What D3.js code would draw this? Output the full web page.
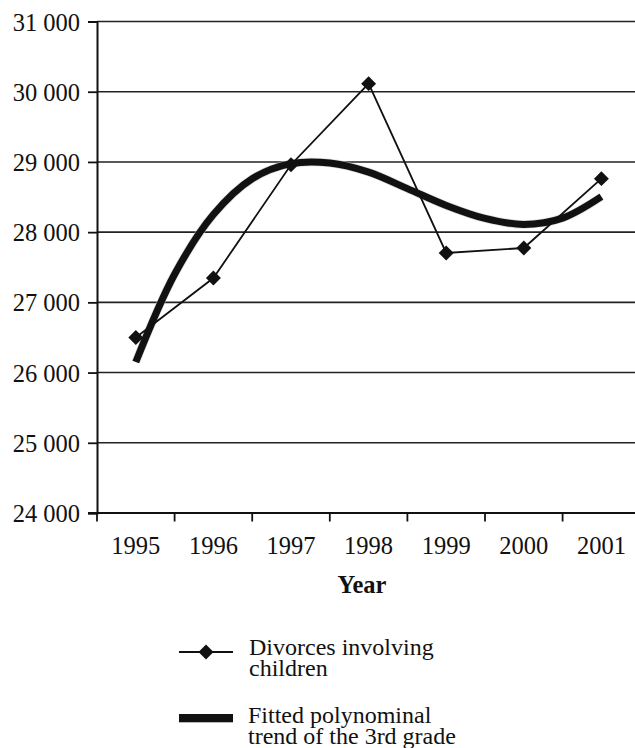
<!DOCTYPE html>
<html>
<head>
<meta charset="utf-8">
<script src="https://cdn.jsdelivr.net/npm/d3@7/dist/d3.min.js"></script>
<style>
  html, body { margin: 0; padding: 0; background: #fff; }
  svg { display: block; }
  text { font-family: "Liberation Serif", "Times New Roman", serif; fill: #111; }
</style>
</head>
<body>
<svg id="chart" width="635" height="748"></svg>
<script>
// ---- data ----
const years = ["1995", "1996", "1997", "1998", "1999", "2000", "2001"];
const divorces = [26500, 27346, 28960, 30115, 27703, 27774, 28762];
// fitted 3rd-degree polynomial trend, read at half-year steps (index 0 = 1995 ... 6 = 2001)
const trendIndex = [0, 0.5, 1, 1.5, 2, 2.5, 3, 3.5, 4, 4.5, 5, 5.5, 6];
const trendValues = [26150, 27400, 28250, 28760, 28975, 28985, 28855, 28620, 28380, 28195, 28110, 28200, 28505];
const yTicks = [24000, 25000, 26000, 27000, 28000, 29000, 30000, 31000];
const legendLabels = [["Divorces involving", "children"], ["Fitted polynominal", "trend of the 3rd grade"]];
const xTitle = "Year";

// ---- layout ----
const svg = d3.select("#chart");
const plotL = 97, plotR = 640.2, plotT = 21.5, plotB = 513;

const x = d3.scaleBand().domain(years).range([plotL, plotR]).padding(0);
const bw = x.bandwidth();
const y = d3.scaleLinear().domain([24000, 31000]).range([plotB, plotT]);
const xi = d3.scaleLinear().domain([0, years.length - 1])
  .range([x(years[0]) + bw / 2, x(years[years.length - 1]) + bw / 2]);

const fmt = d3.formatLocale({ decimal: ".", thousands: " ", grouping: [3], currency: ["", ""] }).format(",");

// gridlines
svg.append("g").selectAll("line").data(yTicks.filter(d => d !== 24000)).join("line")
  .attr("x1", plotL).attr("x2", plotR)
  .attr("y1", d => y(d)).attr("y2", d => y(d))
  .attr("stroke", "#222").attr("stroke-width", 1.6);

// y axis
const yAxis = svg.append("g").attr("transform", `translate(${plotL},0)`)
  .call(d3.axisLeft(y).tickValues(yTicks).tickSize(9).tickPadding(8).tickFormat(fmt));
yAxis.select(".domain").attr("stroke", "#111").attr("stroke-width", 2);
yAxis.selectAll(".tick line").attr("stroke", "#111").attr("stroke-width", 1.8);
yAxis.selectAll(".tick text").attr("font-size", 24.5)
  .attr("font-family", "Liberation Serif, Times New Roman, serif")
  .attr("fill", "#111").attr("dy", "0.35em");

// x axis: labels at band centres, ticks at band edges
const xAxis = svg.append("g").attr("transform", `translate(0,${plotB})`)
  .call(d3.axisBottom(x).tickSize(0).tickPadding(24));
xAxis.select(".domain").remove();
xAxis.selectAll(".tick text").attr("font-size", 24.5)
  .attr("font-family", "Liberation Serif, Times New Roman, serif").attr("fill", "#111");
svg.append("line").attr("x1", plotL - 9).attr("x2", plotR).attr("y1", plotB).attr("y2", plotB)
  .attr("stroke", "#111").attr("stroke-width", 2);
svg.append("g").selectAll("line").data(years).join("line")
  .attr("x1", d => x(d)).attr("x2", d => x(d))
  .attr("y1", plotB).attr("y2", plotB + 8.5)
  .attr("stroke", "#111").attr("stroke-width", 1.8);

svg.append("text").attr("x", 362).attr("y", 592.5).attr("text-anchor", "middle")
  .attr("font-size", 24.5).attr("font-weight", "bold").text(xTitle);

// trend line
const trendLine = d3.line().x(d => xi(d[0])).y(d => y(d[1])).curve(d3.curveCatmullRom);
const trendData = trendIndex.map((t, i) => [t, trendValues[i]]);
svg.append("path").datum(trendData).attr("d", trendLine)
  .attr("fill", "none").attr("stroke", "#c8c8c8").attr("stroke-width", 8.5).attr("opacity", 0.6);
svg.append("path").datum(trendData).attr("d", trendLine)
  .attr("fill", "none").attr("stroke", "#111").attr("stroke-width", 7);

// data line
const dataLine = d3.line().x((d, i) => x(years[i]) + bw / 2).y(d => y(d));
svg.append("path").datum(divorces).attr("d", dataLine)
  .attr("fill", "none").attr("stroke", "#111").attr("stroke-width", 1.8);
const diamond = d3.symbol(d3.symbolSquare, 112);
svg.append("g").selectAll("path").data(divorces).join("path")
  .attr("d", diamond)
  .attr("transform", (d, i) => `translate(${x(years[i]) + bw / 2},${y(d)}) rotate(45)`)
  .attr("fill", "#111");

// legend
const lg = svg.append("g");
lg.append("line").attr("x1", 179).attr("x2", 233).attr("y1", 652).attr("y2", 652)
  .attr("stroke", "#111").attr("stroke-width", 2.2);
lg.append("path").attr("d", diamond).attr("transform", "translate(206,652) rotate(45)").attr("fill", "#111");
lg.append("rect").attr("x", 179).attr("y", 714).attr("width", 54).attr("height", 8.3).attr("fill", "#111");

const lt = [[249, 655], [248, 723]];
legendLabels.forEach((lines, k) => {
  const t = lg.append("text").attr("x", lt[k][0]).attr("y", lt[k][1]).attr("font-size", 24);
  lines.forEach((s, j) => {
    t.append("tspan").attr("x", lt[k][0]).attr("dy", j === 0 ? 0 : 20.5).text(s);
  });
});
</script>
</body>
</html>
